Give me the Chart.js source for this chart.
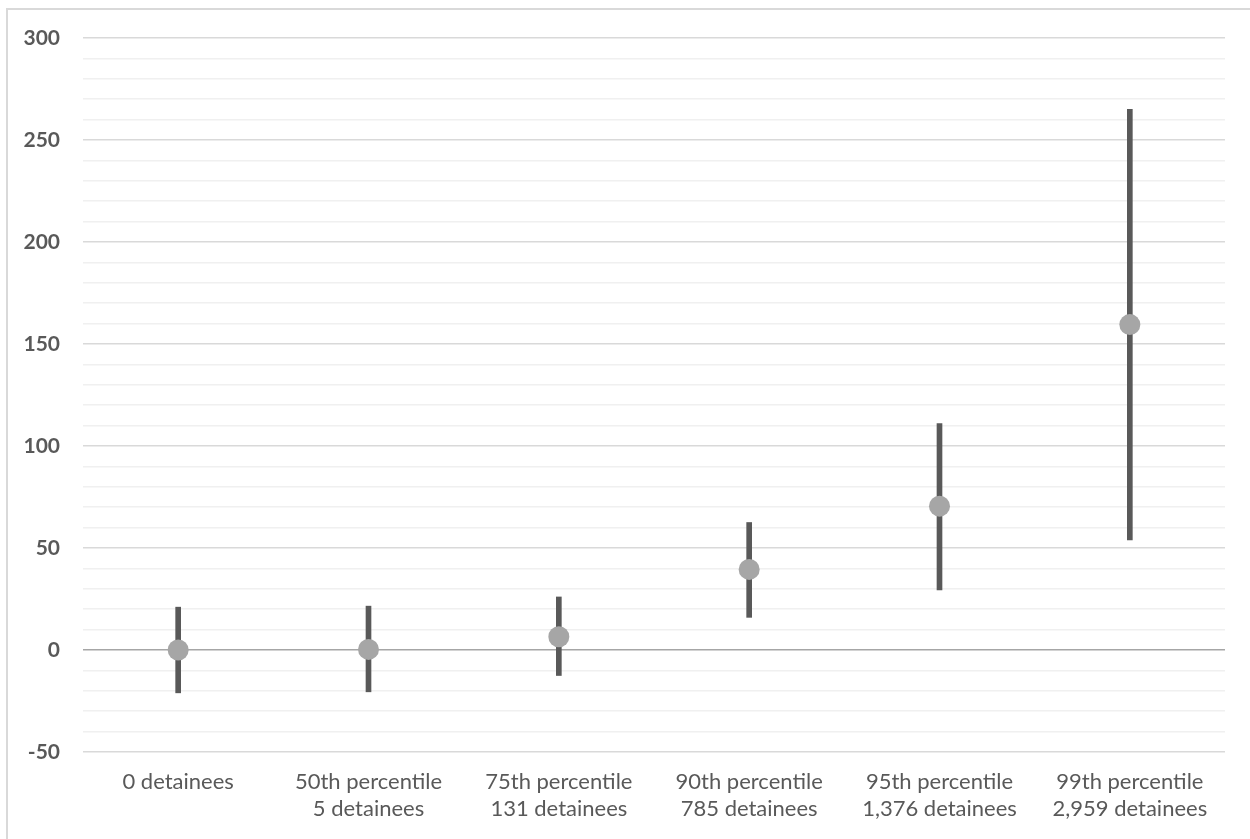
<!DOCTYPE html>
<html>
<head>
<meta charset="utf-8">
<script src="https://cdn.jsdelivr.net/npm/chart.js@4/dist/chart.umd.min.js"></script>
<style>
  html, body { margin: 0; padding: 0; background: #ffffff; overflow: hidden; }
  #frame { position: absolute; left: 6px; top: 8px; width: 1300px; height: 900px; border-left: 2px solid #d9d9d9; border-top: 2px solid #d9d9d9; box-sizing: border-box; }
  #c { position: absolute; left: 0; top: 0; }
</style>
</head>
<body>
<div id="frame"></div>
<canvas id="c" width="1250" height="839"></canvas>
<script>
const categories = [
  ["0 detainees"],
  ["50th percentile", "5 detainees"],
  ["75th percentile", "131 detainees"],
  ["90th percentile", "785 detainees"],
  ["95th percentile", "1,376 detainees"],
  ["99th percentile", "2,959 detainees"]
];
const pointValues = [0, 0.3, 6.5, 39.5, 70.5, 159.5];
const upperValues = [21, 21.5, 26, 62.5, 111, 265];
const lowerValues = [-21, -20.5, -12.5, 16, 29.5, 54];
const yTickLabels = [-50, 0, 50, 100, 150, 200, 250, 300];

const ctx = document.getElementById('c').getContext('2d');
new Chart(ctx, {
  data: {
    labels: categories,
    datasets: [
      {
        type: 'line',
        data: pointValues,
        showLine: false,
        pointRadius: 10.5,
        pointHoverRadius: 10.5,
        pointBackgroundColor: '#a6a6a6',
        pointBorderColor: '#a6a6a6',
        pointBorderWidth: 0,
        order: 0
      },
      {
        type: 'bar',
        data: categories.map((c, i) => [lowerValues[i], upperValues[i]]),
        backgroundColor: '#595959',
        borderWidth: 0,
        barThickness: 5,
        order: 1
      }
    ]
  },
  options: {
    responsive: false,
    animation: false,
    layout: { padding: { left: 0, right: 25, top: 38, bottom: 0 } },
    plugins: { legend: { display: false }, tooltip: { enabled: false } },
    scales: {
      x: {
        type: 'category',
        offset: true,
        grid: { display: false, drawTicks: false },
        border: { display: false },
        ticks: {
          color: '#595959',
          font: { family: 'Lato', size: 22, lineHeight: 1.2 },
          padding: 17,
          maxRotation: 0,
          autoSkip: false
        },
        afterFit: (s) => { s.height = 87; }
      },
      y: {
        type: 'linear',
        min: -50,
        max: 300,
        grid: {
          drawTicks: false,
          color: (c) => {
            const v = c.tick.value;
            if (v === 0) return '#a6a6a6';
            if (yTickLabels.includes(v)) return '#d9d9d9';
            return '#f0f0f0';
          },
          lineWidth: 1.5
        },
        border: { display: false },
        ticks: {
          stepSize: 10,
          color: '#595959',
          font: { family: 'Lato', size: 21, weight: 'bold' },
          padding: 23,
          autoSkip: false,
          callback: (v) => (yTickLabels.includes(v) ? String(v) : '')
        },
        afterFit: (s) => { s.width = 83; }
      }
    }
  }
});
</script>
</body>
</html>
